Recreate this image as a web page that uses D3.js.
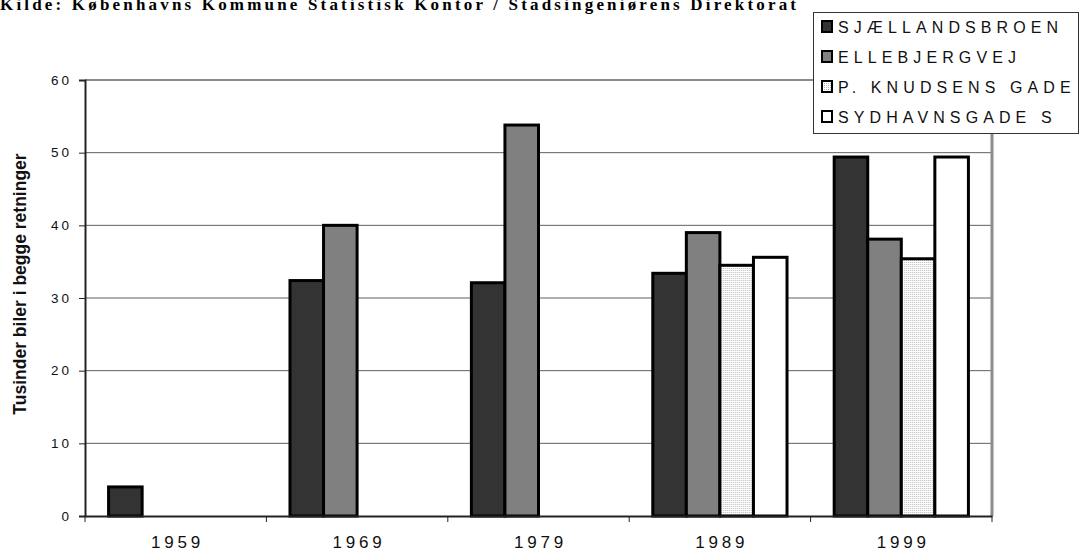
<!DOCTYPE html>
<html>
<head>
<meta charset="utf-8">
<script src="https://cdn.jsdelivr.net/npm/d3@7"></script>
<style>
  html, body { margin: 0; padding: 0; background: #fff; }
  svg { display: block; }
</style>
</head>
<body>
<svg id="chart" width="1080" height="552"></svg>
<script>
// ---- DATA ----
const years = ["1959", "1969", "1979", "1989", "1999"];
const seriesNames = ["SJÆLLANDSBROEN", "ELLEBJERGVEJ", "P. KNUDSENS GADE", "SYDHAVNSGADE S"];
const sjaellandsbroen = [4.0, 32.4, 32.1, 33.4, 49.4];
const ellebjergvej    = [null, 40.0, 53.8, 39.0, 38.1];
const pKnudsensGade   = [null, null, null, 34.5, 35.4];
const sydhavnsgadeS   = [null, null, null, 35.6, 49.4];
const yTicks = [0, 10, 20, 30, 40, 50, 60];
const titleText = "Kilde: Københavns Kommune Statistisk Kontor / Stadsingeniørens Direktorat";
const yLabel = "Tusinder biler i begge retninger";

(function () {
const seriesValues = [sjaellandsbroen, ellebjergvej, pKnudsensGade, sydhavnsgadeS];
const fills = ["#333333", "#808080", "url(#stipple)", "#ffffff"];

const svg = d3.select("#chart");
const defs = svg.append("defs");
const pat = defs.append("pattern").attr("id", "stipple").attr("patternUnits", "userSpaceOnUse")
  .attr("width", 2).attr("height", 2);
pat.append("rect").attr("width", 2).attr("height", 2).attr("fill", "#ffffff");
pat.append("rect").attr("width", 1).attr("height", 1).attr("fill", "#b8b8b8");

const pLeft = 85, pRight = 992, pTop = 80, pBottom = 516;

const x = d3.scaleBand().domain(years).range([pLeft, pRight]).paddingInner(0.26).paddingOuter(0.13);
const xInner = d3.scaleBand().domain(d3.range(seriesNames.length)).range([0, x.bandwidth()]);
const y = d3.scaleLinear().domain([0, 60]).range([pBottom, pTop]);

// Title (cropped at top, as in the source)
svg.append("text")
  .attr("x", 0).attr("y", 9.5)
  .attr("font-family", "'Liberation Serif', 'Times New Roman', serif")
  .attr("font-weight", "bold").attr("font-size", 17)
  .attr("textLength", 796).attr("lengthAdjust", "spacing")
  .attr("fill", "#000")
  .text(titleText);

// Gridlines
svg.append("g").selectAll("line").data(yTicks.filter(t => t > 0 && t < 60)).join("line")
  .attr("x1", pLeft).attr("x2", pRight)
  .attr("y1", d => y(d)).attr("y2", d => y(d))
  .attr("stroke", "#606060").attr("stroke-width", 1);

// Plot border top/right (gray)
svg.append("line").attr("x1", pLeft).attr("x2", pRight + 1).attr("y1", y(60)).attr("y2", y(60))
  .attr("stroke", "#8c8c8c").attr("stroke-width", 2);
svg.append("line").attr("x1", pRight).attr("x2", pRight).attr("y1", y(60)).attr("y2", pBottom)
  .attr("stroke", "#8c8c8c").attr("stroke-width", 3);

// Bars
const groups = svg.append("g").selectAll("g").data(years).join("g")
  .attr("transform", d => `translate(${x(d)},0)`);
groups.selectAll("rect")
  .data((yr, i) => seriesValues.map((vals, s) => ({ s, v: vals[i] })).filter(d => d.v != null))
  .join("rect")
  .attr("x", d => xInner(d.s))
  .attr("width", xInner.bandwidth())
  .attr("y", d => y(d.v))
  .attr("height", d => pBottom - y(d.v))
  .attr("fill", d => fills[d.s])
  .attr("stroke", "#000").attr("stroke-width", 3);

// Y axis
const yAxis = svg.append("g").attr("transform", `translate(${pLeft},0)`)
  .call(d3.axisLeft(y).tickValues(yTicks).tickSize(6).tickPadding(10));
yAxis.select(".domain").attr("stroke", "#222").attr("stroke-width", 2);
yAxis.selectAll(".tick line").attr("stroke", "#222");
yAxis.selectAll(".tick text")
  .attr("font-family", "'Liberation Sans', Arial, sans-serif")
  .attr("font-size", 13.5).attr("letter-spacing", 3).attr("fill", "#111")
  .attr("dx", 3);

// X axis
const xAxis = svg.append("g").attr("transform", `translate(0,${pBottom})`)
  .call(d3.axisBottom(x).tickSize(0).tickPadding(20));
xAxis.select(".domain").attr("stroke", "#222").attr("stroke-width", 2);
xAxis.selectAll(".tick text")
  .attr("font-family", "'Liberation Sans', Arial, sans-serif")
  .attr("font-size", 17).attr("letter-spacing", 3.8).attr("fill", "#111")
  .attr("dx", 1.9);
// boundary ticks between categories
const step = x.step();
const boundaries = d3.range(years.length + 1).map(i => pLeft + i * step);
svg.append("g").selectAll("line").data(boundaries).join("line")
  .attr("x1", d => d).attr("x2", d => d)
  .attr("y1", pBottom).attr("y2", pBottom + 6)
  .attr("stroke", "#222").attr("stroke-width", 1);

// Y label
svg.append("text")
  .attr("transform", `translate(26,284) rotate(-90)`)
  .attr("text-anchor", "middle")
  .attr("font-family", "'Liberation Sans', Arial, sans-serif")
  .attr("font-weight", "bold").attr("font-size", 17.5).attr("fill", "#111")
  .text(yLabel);

// Legend
const lg = svg.append("g");
lg.append("rect").attr("x", 813.5).attr("y", 12.5).attr("width", 265).attr("height", 121)
  .attr("fill", "#fff").attr("stroke", "#333").attr("stroke-width", 1);
const items = lg.selectAll("g.item").data(seriesNames).join("g")
  .attr("transform", (d, i) => `translate(0,${21 + i * 30})`);
items.append("rect").attr("x", 822).attr("y", 0).attr("width", 10).attr("height", 11)
  .attr("fill", (d, i) => fills[i]).attr("stroke", "#000").attr("stroke-width", 2);
items.append("text").attr("x", 838).attr("y", 12)
  .attr("font-family", "'Liberation Sans', Arial, sans-serif")
  .attr("font-size", 16).attr("letter-spacing", 5.1).attr("fill", "#111")
  .text(d => d);
})();
</script>
</body>
</html>
